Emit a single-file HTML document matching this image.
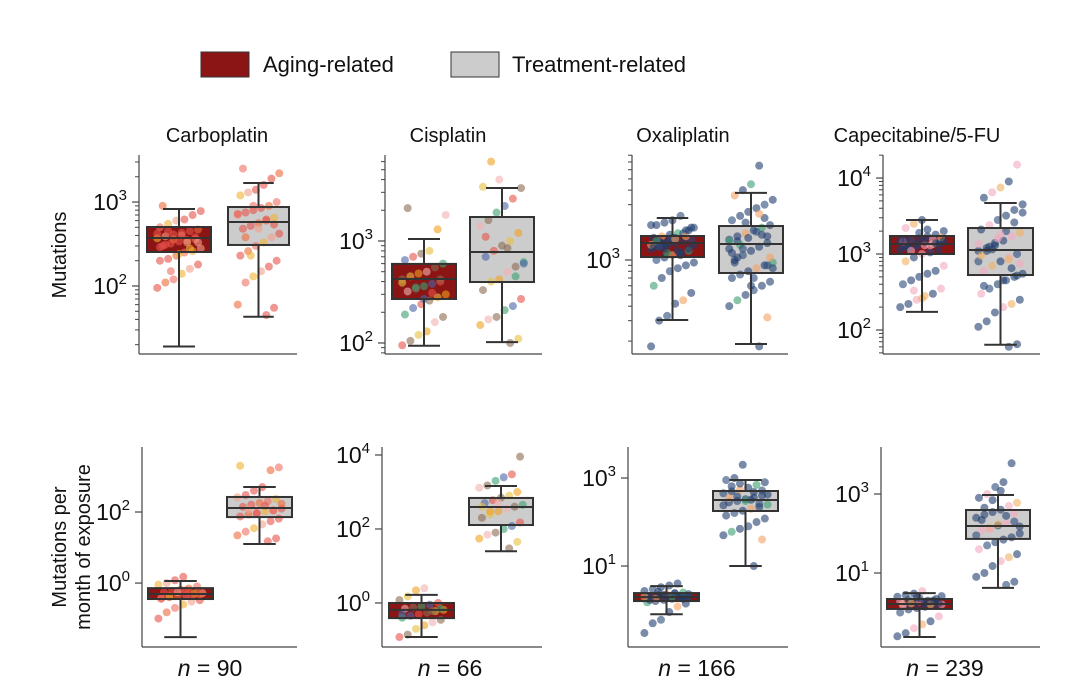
<!DOCTYPE html>
<html><head><meta charset="utf-8"><style>
body{margin:0;background:#fff;}
svg{display:block;font-family:"Liberation Sans",Arial,sans-serif;}
</style></head><body>
<svg id="chart" width="1080" height="699" viewBox="0 0 1080 699">
  <g>
    <rect x="201" y="52" width="48" height="25" fill="#8b1414" stroke="#333" stroke-width="1"/>
    <text x="263" y="72" font-size="22" fill="#111">Aging-related</text>
    <rect x="451" y="52" width="48" height="25" fill="#cccccc" stroke="#333" stroke-width="1"/>
    <text x="512" y="72" font-size="22" fill="#111">Treatment-related</text>
  </g>
  <text transform="translate(66,255) rotate(-90)" text-anchor="middle" font-size="20" fill="#111">Mutations</text>
  <text transform="translate(66,547) rotate(-90)" text-anchor="middle" font-size="20" fill="#111">Mutations per</text>
  <text transform="translate(90,547) rotate(-90)" text-anchor="middle" font-size="20" fill="#111">month of exposure</text>
</svg>
<script>
const drugs = ['Carboplatin','Cisplatin','Oxaliplatin','Capecitabine/5-FU'];
const nCounts = [90, 66, 166, 239];
// box stats [min,q1,median,q3,max]
const topAgingStats = [[19,254,373,504,826],[94,270,424,596,1046],[304,1061,1402,1610,2300],[173,1000,1354,1726,2799]];
const topTreatStats = [[43,308,578,872,1683],[102,396,780,1718,3310],[189,773,1374,1963,3786],[64,529,1129,2198,4688]];
const botAgingStats = [[0.03,0.355,0.49,0.72,1.14],[0.12,0.39,0.65,1.0,1.65],[0.8,1.6,1.97,2.43,3.5],[0.24,1.23,1.64,2.2,3.1]];
const botTreatStats = [[12.6,72,130,265,505],[25,128,394,690,1450],[10,178,316,507,900],[4.2,73,155,394,944]];
// individual points
const topAgingPts = [
 [95,110,120,140,160,180,200,210,230,250,260,280,300,320,340,350,360,370,390,410,430,450,470,500,550,600,620,700,780,900,150,240,330,380,420,310,360,400,280,330,290,450],
 [95,105,120,130,160,180,190,220,240,260,280,300,320,340,360,380,400,420,450,480,500,550,600,650,700,750,800,1300,1800,2100,350,270,310,420,390],
 [180,300,330,420,450,520,600,700,800,850,900,950,1000,1050,1100,1150,1200,1250,1300,1350,1400,1450,1500,1550,1600,1650,1700,1800,1900,2000,2100,2200,2400,1250,1350,1450,1150,1550,1700,1900,1300,1400,1500,1200,1600,1350,1450,1250,1550,1100,1800,2000,1320,1420,1520],
 [200,220,250,280,300,350,400,450,500,550,600,700,800,900,1000,1050,1100,1150,1200,1250,1300,1350,1400,1450,1500,1600,1700,1800,2000,2200,2500,2800,1300,1400,1500,1200,1350,1450,1550,1650,1250,1100,1900,2100,1380,1480,1580,330,260]];
const topTreatPts = [
 [45,55,60,110,130,150,170,200,230,260,300,330,380,420,480,520,560,600,650,700,750,800,850,900,1000,1200,1300,1400,1600,1900,2200,2500,230,480,620,540,720,380,900],
 [100,110,150,170,180,210,230,270,330,400,420,500,560,620,700,800,900,1000,1200,1400,1600,1900,2200,2600,3300,3400,6000,4000,850,450,600,1100],
 [180,320,400,450,500,550,600,650,700,750,800,850,900,950,1000,1100,1200,1300,1400,1500,1600,1700,1800,1900,2000,2200,2400,2600,2800,3000,3300,3600,4000,4500,6500,900,1250,1450,2100,700,1650,1050,1150,1350,1550,1750,2300,850,950,1250,600,2500,1600,1450,1050],
 [60,65,110,130,170,200,220,250,300,350,400,450,500,550,600,700,800,900,1000,1100,1200,1300,1500,1700,1900,2100,2400,2800,3200,3800,4500,5500,6500,7500,9000,15000,800,1100,1400,450,650,750,950,1250,1600,2000,2600,3500,380,1150,1800,850,520,1350]];
const botAgingPts = [
 [0.1,0.15,0.2,0.25,0.3,0.33,0.36,0.4,0.43,0.46,0.5,0.52,0.55,0.6,0.65,0.7,0.8,0.9,1.0,1.2,1.5,0.45,0.5,0.38,0.42,0.55,0.62],
 [0.12,0.14,0.2,0.25,0.3,0.35,0.4,0.45,0.5,0.55,0.6,0.65,0.7,0.75,0.8,0.9,1.0,1.2,1.5,2.2,2.5,0.6,0.7,0.5],
 [0.3,0.5,0.6,0.9,1.2,1.4,1.5,1.6,1.7,1.8,1.9,2.0,2.1,2.2,2.3,2.4,2.5,2.7,3.0,3.3,3.6,4.0,1.9,2.1,1.8,2.2,2.0,1.9,2.3,1.7,2.6,2.1,2.4,1.8,2.0],
 [0.25,0.3,0.4,0.5,0.6,0.8,1.0,1.2,1.3,1.4,1.5,1.6,1.7,1.8,1.9,2.0,2.2,2.5,2.8,3.0,3.5,1.6,1.7,1.9,2.1,2.4,1.8,2.0,2.6,1.5,1.7,2.3]];
const botTreatPts = [
 [15,18,22,28,35,45,55,65,75,85,95,105,115,125,140,160,180,200,230,260,300,400,500,1500,1800,2000,120,90,150,110,170],
 [30,45,55,70,80,100,120,150,200,250,300,350,400,450,500,600,700,800,1000,1300,1500,2000,2500,3000,9000,400,300,500],
 [10,40,50,60,70,80,100,120,140,160,180,200,220,250,280,300,330,360,400,450,500,550,600,700,800,900,1000,2000,320,260,420,350,380,300,480,520,240,650,750],
 [5,6,8,10,15,20,25,30,40,50,60,70,80,100,120,140,160,180,200,250,300,350,400,500,600,800,1000,1500,2000,6000,150,220,130,170,280,320,90,450,700,1200]];
// log10 domains & labelled tick exponents
const topDomains = [[1.19,3.56],[1.892,3.843],[2.19,3.905],[1.684,4.303]];
const botDomains = [[-1.80,3.83],[-1.19,4.216],[-0.84,3.705],[-0.873,4.19]];
const topTickExps = [[2,3],[2,3],[3],[2,3,4]];
const botTickExps = [[0,2],[0,2,4],[1,3],[1,3]];

const palettes = [
 ['#e8524a','#f07060','#f4a08a','#e8524a','#ee6a3a','#f0b030','#e8524a'],
 ['#e8524a','#f0a020','#3aa070','#8a6a50','#f4b0b0','#4a64a8','#e8c040','#8a6a50'],
 ['#1f3e6e','#1f3e6e','#2a4a7a','#1f3e6e','#f4a060','#1f3e6e','#3aa070','#1f3e6e','#2a4a7a','#1f3e6e'],
 ['#1f3e6e','#f4a8c0','#1f3e6e','#2a4a7a','#f4a8c0','#1f3e6e','#f0b060','#1f3e6e','#1f3e6e']];

const titleX = [217,448,683,917];
const nX = [210,450,697,945];
const layout = {
 top:{y0:155,y1:354,axisX:[139,385,632,883],axisEnd:[297,542,788,1040],ag:[[147,211],[392,456],[641,704],[890,954]],tr:[[228,289],[470,534],[719,783],[968,1033]]},
 bot:{y0:447,y1:647,axisX:[142,382,628,881],axisEnd:[297,542,788,1040],ag:[[148,213],[389,454],[634,699],[887,952]],tr:[[227,292],[469,533],[713,778],[966,1030]]}
};
const svg = document.getElementById('chart');
const NS = 'http://www.w3.org/2000/svg';
function mk(tag, attrs, parent){const e=document.createElementNS(NS,tag);for(const k in attrs)e.setAttribute(k,attrs[k]);(parent||svg).appendChild(e);return e;}

function drawPanel(row, i, domain, tickExps, agStats, trStats, agPts, trPts, minor){
  const L = layout[row];
  const g = mk('g',{});
  
  
  const yS = v => L.y1 - (Math.log10(v)-domain[0])/(domain[1]-domain[0])*(L.y1-L.y0);
  const yE = e => L.y1 - (e-domain[0])/(domain[1]-domain[0])*(L.y1-L.y0);
  const ax = L.axisX[i];
  const yAxis = mk('line',{x1:ax,y1:L.y0,x2:ax,y2:L.y1,stroke:'#444','stroke-width':1.2},g);
  
  
  const xAxis = mk('line',{x1:ax,y1:L.y1,x2:L.axisEnd[i],y2:L.y1,stroke:'#444','stroke-width':1.2},g);
  
  
  if(minor){
    for(let e=Math.floor(domain[0]);e<=Math.ceil(domain[1]);e++){
      for(let m=2;m<=9;m++){const le=e+Math.log10(m);if(le>domain[0]&&le<domain[1]){mk('line',{x1:ax-4,y1:yE(le),x2:ax,y2:yE(le),stroke:'#444','stroke-width':1},g);}}
    }
  }
  tickExps.forEach(e=>{
    const y=yE(e);
    mk('line',{x1:ax-7,y1:y,x2:ax,y2:y,stroke:'#444','stroke-width':1.2},g);
    const t=mk('text',{x:ax-12,y:y+8,'text-anchor':'end','font-size':23,fill:'#111'},g);
    
    
    t.textContent='10';
    const s=mk('tspan',{dy:-10,'font-size':15},t); s.textContent=String(e);
  });
  const pal = palettes[i];
  [[agStats,agPts,L.ag[i],'#8b1414','aging'],[trStats,trPts,L.tr[i],'#cccccc','treatment']].forEach(([st,pts,xr,fill,nm],gi)=>{
    const [x0,x1]=xr, cx=(x0+x1)/2, w=x1-x0;
    const box=mk('rect',{x:x0,y:yS(st[3]),width:w,height:yS(st[1])-yS(st[3]),fill:fill},g);
    
    
    pts.forEach((v,k)=>{
      const jit=(((k*37+gi*11)%17)/16-0.5)*w*0.68;
      const c=mk('circle',{cx:cx+jit,cy:yS(v),r:4,fill:pal[(k*11+gi*3)%pal.length],'fill-opacity':0.6},g);
      
      
    });
    const st1={stroke:'#333','stroke-width':2,fill:'none'};
    mk('rect',Object.assign({x:x0,y:yS(st[3]),width:w,height:yS(st[1])-yS(st[3])},st1),g);
    mk('line',Object.assign({x1:x0,x2:x1,y1:yS(st[2]),y2:yS(st[2])},st1),g);
    mk('line',Object.assign({x1:cx,x2:cx,y1:yS(st[3]),y2:yS(st[4])},st1),g);
    mk('line',Object.assign({x1:cx,x2:cx,y1:yS(st[1]),y2:yS(st[0])},st1),g);
    mk('line',Object.assign({x1:cx-w/4,x2:cx+w/4,y1:yS(st[4]),y2:yS(st[4])},st1),g);
    mk('line',Object.assign({x1:cx-w/4,x2:cx+w/4,y1:yS(st[0]),y2:yS(st[0])},st1),g);
  });
  if(row==='top'){
    const t=mk('text',{x:titleX[i],y:142,'text-anchor':'middle','font-size':20,fill:'#111'},g);
    
    
    t.textContent=drugs[i];
  } else {
    const t=mk('text',{x:nX[i],y:676,'text-anchor':'middle','font-size':23,fill:'#111'},g);
    
    
    const a=mk('tspan',{'font-style':'italic'},t); a.textContent='n';
    const b=mk('tspan',{},t); b.textContent=' = '+nCounts[i];
  }
}
for(let i=0;i<4;i++){
  drawPanel('top',i,topDomains[i],topTickExps[i],topAgingStats[i],topTreatStats[i],topAgingPts[i],topTreatPts[i],true);
  drawPanel('bot',i,botDomains[i],botTickExps[i],botAgingStats[i],botTreatStats[i],botAgingPts[i],botTreatPts[i],false);
}
</script>
</body></html>
